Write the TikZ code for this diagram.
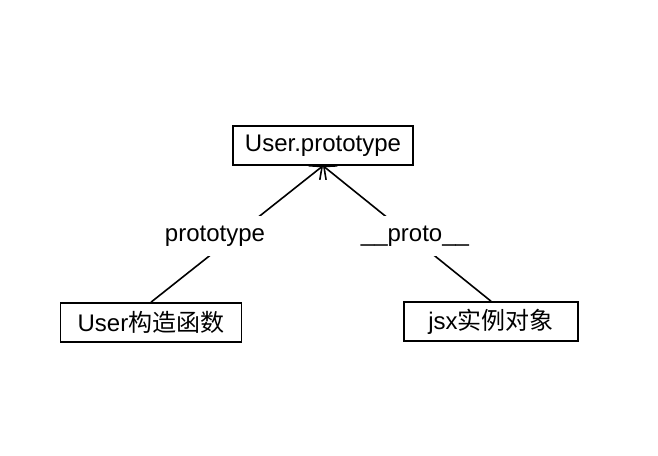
\documentclass[tikz,border=0pt]{standalone}
\usepackage{fontspec}
\setmainfont{Liberation Sans}
\newfontfamily\cjk{Noto Sans CJK SC}
\usetikzlibrary{arrows.meta}
\begin{document}
\begin{tikzpicture}[
                x = 1pt, y = -1pt,
                box/.style = {draw, line width = 1.6pt, inner sep = 0mm, minimum height = 39pt,
                    font = \fontsize{24}{28}\selectfont},
                lbl/.style = {fill = white, inner xsep = 2pt, inner ysep = 0pt, minimum height = 40pt,
                    font = \fontsize{24}{28}\selectfont},
                arr/.style = {draw, line width = 1.6pt, -{Straight Barb[length = 10pt, width = 18pt]}},
            ]
            \useasboundingbox (0, 0) rectangle (658, 455);

            \node (T) at (323, 145.5) [box, minimum width = 180pt] {User.prototype};
            \node (C) at (151, 322.5) [box, minimum width = 181pt] {User{\cjk 构造函数}};
            \node (J) at (491, 321.5) [box, minimum width = 174pt] {jsx{\cjk 实例对象}};

            \path[arr] (C.north) -- (T.south);
            \path[arr] (J.north) -- (T.south);

            \node (P) at (215, 236) [lbl] {prototype};
            \node (Q) at (415, 236) [lbl] {\_\_proto\_\_};
        \end{tikzpicture}
\end{document}
